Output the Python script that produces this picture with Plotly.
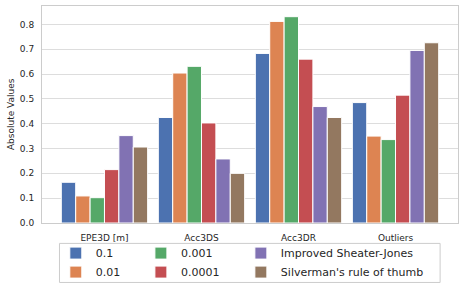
import plotly.graph_objects as go

categories = ["EPE3D [m]", "Acc3DS", "Acc3DR", "Outliers"]
series_names = ["0.1", "0.01", "0.001", "0.0001", "Improved Sheater-Jones", "Silverman's rule of thumb"]
v_01 = [0.164, 0.425, 0.683, 0.485]
v_001 = [0.109, 0.604, 0.812, 0.350]
v_0001 = [0.102, 0.631, 0.831, 0.336]
v_00001 = [0.215, 0.403, 0.660, 0.515]
v_isj = [0.352, 0.258, 0.469, 0.695]
v_silv = [0.306, 0.200, 0.425, 0.726]
values = [v_01, v_001, v_0001, v_00001, v_isj, v_silv]
colors = ["#4C72B0", "#DD8452", "#55A868", "#C44E52", "#8172B3", "#937860"]
legend_ids = ["legend", "legend", "legend2", "legend2", "legend3", "legend3"]
y_title = "Absolute Values"

fig = go.Figure()
for name, vals, col, lg in zip(series_names, values, colors, legend_ids):
    fig.add_trace(go.Bar(
        x=categories, y=vals, name=name,
        marker=dict(color=col, line=dict(color="white", width=1)),
        legend=lg,
    ))

font = "DejaVu Sans"
leg_common = dict(orientation="v", yanchor="top", xanchor="left",
                  xref="container", yref="container", y=0.1715,
                  bgcolor="rgba(0,0,0,0)", borderwidth=0,
                  font=dict(family=font, size=11, color="#262626"),
                  tracegroupgap=0)
fig.update_layout(
    width=465, height=288,
    margin=dict(l=41.5, r=6.5, t=6, b=65.3, autoexpand=False),
    paper_bgcolor="white", plot_bgcolor="white",
    barmode="group", bargap=0.11, bargroupgap=0,
    font=dict(family=font, size=9, color="#262626"),
    legend=dict(x=0.120, **leg_common),
    legend2=dict(x=0.303, **leg_common),
    legend3=dict(x=0.518, **leg_common),
    shapes=[dict(type="rect", xref="paper", yref="paper",
                 x0=0.042, x1=0.957, y0=-0.094, y1=-0.274,
                 line=dict(color="#cccccc", width=1), fillcolor="rgba(0,0,0,0)")],
    annotations=[dict(text=y_title, xref="paper", yref="paper",
                      x=-0.0755, y=0.5, textangle=-90, showarrow=False,
                      xanchor="center", yanchor="middle",
                      font=dict(family=font, size=9, color="#262626"))],
)
fig.update_xaxes(range=[-0.644, 3.644],
                 showline=True, mirror=True, linecolor="#cccccc", linewidth=1,
                 showgrid=False, ticks="outside", ticklen=6,
                 tickcolor="rgba(0,0,0,0)", tickfont=dict(size=9))
fig.update_yaxes(range=[0, 0.874], dtick=0.1, tickformat=".1f",
                 showline=True, mirror=True, linecolor="#cccccc", linewidth=1,
                 gridcolor="#dddddd", gridwidth=1, zeroline=False,
                 ticks="outside", ticklen=5, tickcolor="rgba(0,0,0,0)",
                 tickfont=dict(size=9))

fig.write_html("out.html", config={"displayModeBar": False},
               post_script="document.body.style.margin='0';")
